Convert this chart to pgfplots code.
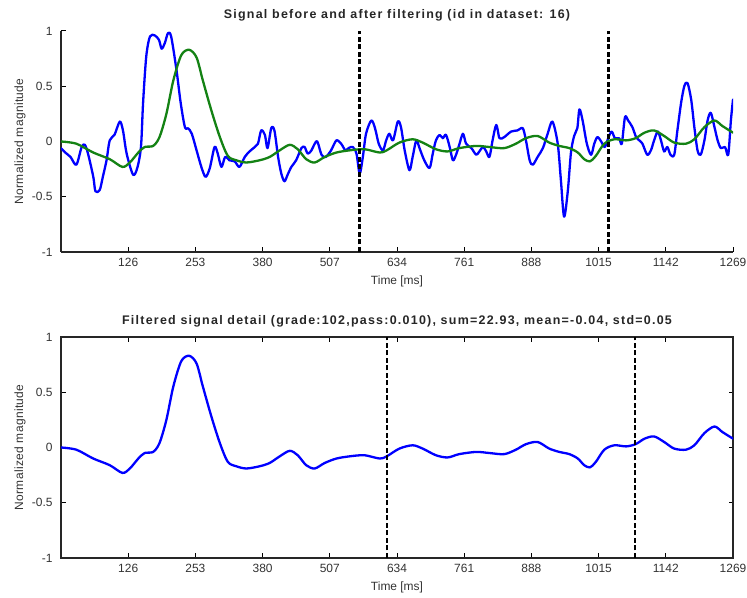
\documentclass[border=0pt]{standalone}
\usepackage{pgfplots}
\pgfplotsset{compat=1.18}
\usepackage{pgfplotstable}
\usepackage{fontspec}
\setmainfont{Liberation Sans}
\newfontfamily\titlefont[LetterSpace=10]{Liberation Sans}
\newfontfamily\labelfont[LetterSpace=3]{Liberation Sans}

\definecolor{rawblue}{RGB}{0,0,255}
\definecolor{filtgreen}{RGB}{20,130,20}

% raw signal (normalized)
\pgfplotstableread{
t y
0 -0.06
8 -0.10
18 -0.14
29 -0.21
39 -0.05
45 -0.03
51 -0.11
61 -0.32
65 -0.45
73 -0.44
79 -0.32
86 -0.17
92 0.01
101 0.06
111 0.18
117 0.10
124 -0.11
136 -0.30
144 -0.24
151 -0.05
155 0.35
161 0.77
168 0.95
177 0.96
185 0.92
190 0.84
196 0.89
202 0.98
208 0.95
218 0.65
226 0.35
234 0.13
240 0.12
247 0.07
256 -0.08
265 -0.23
273 -0.32
281 -0.24
290 -0.05
296 -0.11
303 -0.23
310 -0.14
318 -0.17
328 -0.18
337 -0.23
347 -0.14
356 -0.09
366 -0.05
372 -0.02
378 0.10
385 0.06
390 -0.06
397 0.12
403 0.10
410 -0.14
416 -0.29
422 -0.36
428 -0.30
435 -0.23
444 -0.17
454 -0.06
460 -0.05
466 -0.11
473 -0.08
478 -0.03
484 0.00
492 -0.12
500 -0.14
510 -0.08
520 0.01
529 -0.02
537 -0.08
543 -0.06
551 -0.05
558 -0.11
564 -0.29
570 -0.14
576 0.07
586 0.19
593 0.12
600 -0.02
608 -0.08
614 0.01
620 0.07
627 0.01
636 0.18
642 0.13
649 -0.08
658 -0.26
664 -0.14
671 0.01
677 -0.06
686 -0.17
696 -0.24
702 -0.11
708 0.01
715 0.06
721 0.03
727 0.06
734 -0.05
740 -0.17
746 -0.12
752 -0.03
759 0.07
765 -0.02
775 -0.06
784 -0.12
790 -0.09
797 -0.05
803 -0.09
809 -0.14
815 0.01
822 0.15
828 0.03
837 0.04
850 0.09
862 0.10
872 0.12
878 0.01
885 -0.17
891 -0.21
900 -0.14
910 -0.06
919 0.07
928 0.18
938 -0.02
944 -0.35
950 -0.68
957 -0.45
963 -0.10
969 0.05
975 0.12
979 0.29
985 0.19
993 -0.02
1001 -0.12
1007 -0.02
1013 0.04
1020 0.00
1027 -0.05
1034 0.04
1040 0.09
1046 0.03
1054 0.03
1059 -0.02
1065 0.22
1071 0.19
1079 0.13
1086 0.04
1092 0.01
1098 -0.02
1107 -0.12
1114 -0.08
1120 0.01
1127 0.09
1133 0.01
1139 -0.09
1145 -0.05
1151 -0.12
1158 -0.12
1164 0.10
1171 0.35
1177 0.50
1183 0.53
1190 0.38
1196 0.13
1202 -0.08
1208 -0.12
1215 0.01
1221 0.19
1227 0.26
1234 0.13
1240 0.01
1246 -0.06
1254 -0.05
1260 -0.12
1265 0.19
1269 0.38
}\rawsignal

% band-pass filtered signal
\pgfplotstableread{
t y
0 0.00
29 -0.02
61 -0.10
92 -0.16
116 -0.23
130 -0.19
146 -0.10
158 -0.05
174 -0.04
186 0.04
199 0.25
212 0.55
227 0.78
242 0.83
256 0.76
268 0.55
284 0.28
300 0.04
315 -0.13
331 -0.17
350 -0.19
375 -0.17
394 -0.14
413 -0.08
432 -0.03
447 -0.07
463 -0.16
479 -0.19
498 -0.14
520 -0.10
545 -0.08
573 -0.07
602 -0.10
615 -0.08
639 -0.01
664 0.02
683 -0.01
708 -0.07
730 -0.09
752 -0.06
784 -0.04
809 -0.05
837 -0.06
859 -0.02
878 0.03
900 0.05
922 -0.01
941 -0.04
960 -0.06
976 -0.10
988 -0.16
999 -0.18
1010 -0.13
1026 -0.02
1045 0.02
1067 0.01
1085 0.03
1102 0.08
1120 0.10
1139 0.05
1158 -0.01
1180 -0.02
1196 0.02
1215 0.13
1234 0.19
1249 0.14
1269 0.08
}\filtsignal

\pgfplotsset{
  sigaxis/.style={
    scale only axis, width=672bp, height=221bp,
    xmin=0, xmax=1269, ymin=-1, ymax=1,
    xtick={126.9,253.8,380.7,507.6,634.5,761.4,888.3,1015.2,1142.1,1269},
    xticklabels={126,253,380,507,634,761,888,1015,1142,1269},
    ytick={-1,-0.5,0,0.5,1},
    yticklabels={-1,-0.5,0,0.5,1},
    tick align=inside, major tick length=4.5bp,
    tick style={black, line width=1bp},
    axis line style={black!85, line width=1.3bp},
    ticklabel style={font=\fontsize{12}{14}\selectfont, black!80},
    /pgf/number format/assume math mode=true,
    xlabel={Time [ms]}, ylabel={Normalized magnitude},
    every axis x label/.style={at={(axis description cs:0.5,-0.135)}, anchor=center,
      font=\fontsize{12}{14}\selectfont, black!80},
    every axis y label/.style={at={(axis description cs:-0.061,0.5)}, anchor=center,
      rotate=90, font=\labelfont\fontsize{12}{14}\selectfont, black!80},
    every axis title/.style={at={(axis description cs:0.5,1.07)}, anchor=center,
      font=\titlefont\fontsize{12.5}{14}\selectfont\bfseries, black!85},
    xticklabel style={yshift=-3bp},
    yticklabel style={xshift=-5bp},
  },
  sigline/.style={line width=2.3bp, line join=round, line cap=round, smooth, tension=0.5},
  vmark/.style={black, line width=#1, dash pattern=on 5bp off 2.5bp},
}

\begin{document}
\begin{tikzpicture}
\path[use as bounding box] (0,0) rectangle (747bp,598bp);

% raw vs filtered
\begin{axis}[sigaxis, at={(61bp,346bp)}, anchor=south west,
  axis x line*=bottom, axis y line*=left,
  title={Signal before and after filtering (id in dataset: 16)}]
  \addplot[rawblue, sigline] table[x=t, y=y] {\rawsignal};
  \addplot[filtgreen, sigline] table[x=t, y=y] {\filtsignal};
  \addplot[vmark=2.4bp] coordinates {(564,-1) (564,1)};
  \addplot[vmark=2.4bp] coordinates {(1034,-1) (1034,1)};
\end{axis}

% filtered detail
\begin{axis}[sigaxis, at={(61bp,40bp)}, anchor=south west,
  title={Filtered signal detail (grade:102,pass:0.010), sum=22.93, mean=-0.04, std=0.05}]
  \addplot[rawblue, sigline] table[x=t, y=y] {\filtsignal};
  \addplot[vmark=1.9bp] coordinates {(615,-1) (615,1)};
  \addplot[vmark=1.9bp] coordinates {(1084,-1) (1084,1)};
\end{axis}
\end{tikzpicture}
\end{document}
